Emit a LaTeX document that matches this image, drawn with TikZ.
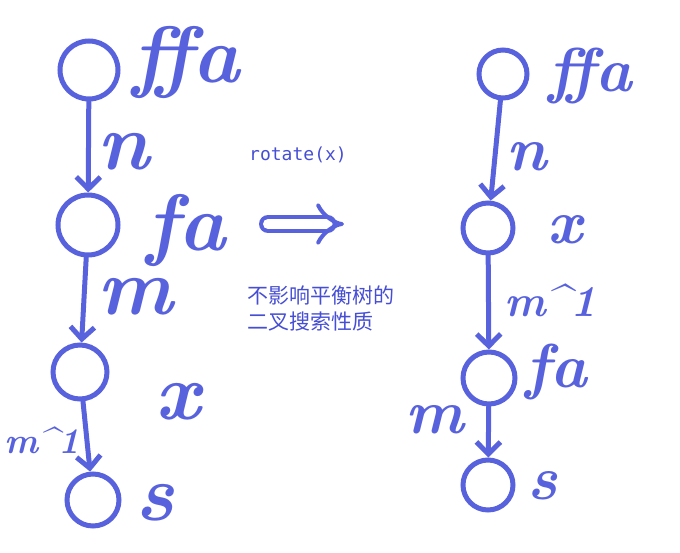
\documentclass[tikz,border=0pt]{standalone}
\usepackage{fontspec}
\newfontfamily\cjk{Noto Sans CJK SC}
\newfontfamily\monofnt{DejaVu Sans Mono}
\usetikzlibrary{arrows.meta}
\definecolor{pen}{RGB}{88,98,220}
\definecolor{note}{RGB}{70,78,212}
\begin{document}
\begin{tikzpicture}[x=1pt,y=-1pt,line width=5pt,
  vert/.style={draw=pen,circle,inner sep=0pt,minimum size=#1},
  lab/.style={text=pen,inner sep=0pt,font=\fontsize{#1}{#1}\selectfont\bfseries\itshape},
  edge/.style={draw=pen,line cap=round,-{Straight Barb[length=12pt,width=24pt]}}]
  \useasboundingbox (0,0) rectangle (680,552);
  % before rotate
  \node[vert=58pt] (ffa) at (89,70) {};
  \node[vert=60pt] (fa) at (88,225) {};
  \node[vert=54pt] (x) at (80,372) {};
  \node[vert=52pt] (s) at (93,500) {};
  \draw[edge] (ffa) -- (fa);
  \draw[edge] (fa) -- (x);
  \draw[edge] (x) -- (s);
  \node[lab=80] (lffa) at (186,62) {ffa};
  \node[lab=80] (ln) at (123,152) {n};
  \node[lab=80] (lfa) at (186,230) {fa};
  \node[lab=80] (lm) at (135,297) {m};
  \node[lab=80] (lx) at (178,402) {x};
  \node[lab=36] (lmx) at (42,440) {m\textasciicircum 1};
  \node[lab=80] (ls) at (155,503) {s};
  % middle
  \node[text=note,font=\monofnt\fontsize{18}{18}\selectfont] (rot) at (298,155) {rotate(x)};
  \coordinate (d1) at (268,224);
  \coordinate (d2) at (344,224);
  \draw[pen,line width=4pt,double distance=10pt,line cap=round,-{Implies}] (d1) -- (d2);
  \node[text=note,font=\cjk\fontsize{21}{26}\selectfont,align=left,anchor=west] (txt) at (242,308) {不影响平衡树的\\二叉搜索性质};
  % after rotate
  \node[vert=48pt] (rffa) at (503,74) {};
  \node[vert=50pt] (rx) at (488,228) {};
  \node[vert=52pt] (rfa) at (489,378) {};
  \node[vert=50pt] (rs) at (488,485) {};
  \draw[edge] (rffa) -- (rx);
  \draw[edge] (rx) -- (rfa);
  \draw[edge] (rfa) -- (rs);
  \node[lab=62] (kffa) at (590,76) {ffa};
  \node[lab=62] (kn) at (527,157) {n};
  \node[lab=62] (kx) at (565,230) {x};
  \node[lab=44] (kmx) at (550,300) {m\textasciicircum 1};
  \node[lab=62] (kfa) at (556,372) {fa};
  \node[lab=62] (km) at (435,420) {m};
  \node[lab=62] (ks) at (543,486) {s};
\end{tikzpicture}
\end{document}
